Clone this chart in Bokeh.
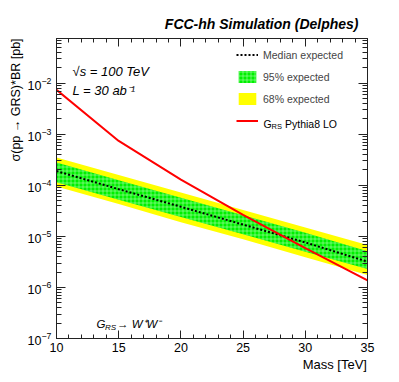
import math
from bokeh.plotting import figure
from bokeh.models import (FixedTicker, LinearAxis, LogAxis, Label, Legend,
                          LegendItem, ColumnDataSource, CustomLabelingPolicy)
from bokeh.embed import file_html
from bokeh.resources import INLINE

# ---------------- data ----------------
mass = [10, 15, 20, 25, 30, 35]
median_exp = [1.9e-4, 8.4e-5, 3.8e-5, 1.7e-5, 7.6e-6, 3.2e-6]
band95_hi = [2.8e-4, 1.25e-4, 5.7e-5, 2.6e-5, 1.18e-5, 5.1e-6]
band95_lo = [1.15e-4, 5.2e-5, 2.4e-5, 1.1e-5, 5.0e-6, 2.3e-6]
band68_hi = [3.5e-4, 1.6e-4, 7.2e-5, 3.3e-5, 1.5e-5, 6.8e-6]
band68_lo = [9.5e-5, 4.3e-5, 1.9e-5, 8.8e-6, 3.9e-6, 1.75e-6]
theory_mass = [10, 15, 20, 25, 30, 35]
theory_xsec = [7.4e-3, 7.4e-4, 1.29e-4, 2.63e-5, 5.9e-6, 1.38e-6]

x_ticks = [10, 15, 20, 25, 30, 35]
x_minor = list(range(10, 36))
y_ticks = [1e-7, 1e-6, 1e-5, 1e-4, 1e-3, 1e-2]
y_minor = [m * 10.0 ** e for e in range(-7, -1) for m in range(2, 10)]

x_title = "Mass [TeV]"
y_title = "\u03c3(pp \u2192 GRS)*BR [pb]"

XMIN, XMAX = 10, 35
YMIN, YMAX = 1e-7, 0.075

FONT = "Liberation Sans"
NBSP = "\u00a0"

src = ColumnDataSource(dict(mass=mass, med=median_exp,
                            g_hi=band95_hi, g_lo=band95_lo,
                            y_hi=band68_hi, y_lo=band68_lo))
th = ColumnDataSource(dict(mass=theory_mass, xs=theory_xsec))

p = figure(width=391, height=374, x_range=(XMIN, XMAX), y_range=(YMIN, YMAX),
           y_axis_type="log", output_backend="svg", toolbar_location=None,
           min_border_left=56, min_border_right=24, min_border_top=38,
           min_border_bottom=32)
p.grid.visible = False
p.outline_line_color = "#222222"
p.background_fill_color = "white"
p.border_fill_color = "white"

# title
p.title.text = "FCC-hh Simulation (Delphes)"
p.title.align = "right"
p.title.offset = 9
p.title.standoff = 6
p.title.text_font = FONT
p.title.text_font_size = "14px"
p.title.text_font_style = "bold italic"
p.title.text_color = "black"

# ---------------- glyphs ----------------
YELLOW = "#ffff00"
GREEN = "#00f000"
r_y = p.varea(x="mass", y1="y_lo", y2="y_hi", source=src, fill_color=YELLOW)
r_g = p.varea(x="mass", y1="g_lo", y2="g_hi", source=src, fill_color=GREEN,
              hatch_pattern="+", hatch_color="#b4ffb4", hatch_alpha=0.55,
              hatch_scale=4, hatch_weight=1)
r_med = p.line(x="mass", y="med", source=src, line_color="black",
               line_width=2, line_dash="2 2")
r_th = p.line(x="mass", y="xs", source=th, line_color="#ff0000", line_width=2)

# ---------------- axes ----------------
xt = FixedTicker(ticks=x_ticks, minor_ticks=x_minor)
yt = FixedTicker(ticks=y_ticks, minor_ticks=y_minor)
no_labels = CustomLabelingPolicy(code="return new Set()")

def style_axis(ax, major, minor, show_labels):
    ax.major_tick_in = major
    ax.major_tick_out = 0
    ax.minor_tick_in = minor
    ax.minor_tick_out = 0
    ax.axis_line_color = "#222222"
    ax.major_tick_line_color = "#222222"
    ax.minor_tick_line_color = "#222222"
    ax.major_label_text_font = FONT
    ax.major_label_text_color = "black"
    if show_labels:
        ax.major_label_text_font_size = "12.5px"
    else:
        ax.major_label_text_font_size = "1px"
        ax.major_label_policy = no_labels
        ax.major_label_standoff = 0

p.xaxis.ticker = xt
p.yaxis.ticker = yt
style_axis(p.xaxis[0], 8, 4, True)
style_axis(p.yaxis[0], 9, 5, True)
p.xaxis.major_label_standoff = 4
p.yaxis.major_label_standoff = 5

# axis titles: the axis centres its label, so non-breaking spaces push the
# visible text to the right end (x) and to the top end (y) as in ROOT
xa = p.xaxis[0]
xa.axis_label = NBSP * 68 + x_title
xa.axis_label_text_font = FONT
xa.axis_label_text_font_size = "13px"
xa.axis_label_text_font_style = "normal"
xa.axis_label_text_color = "black"
xa.axis_label_standoff = 2

ya = p.yaxis[0]
ya.axis_label = NBSP * 51 + y_title
ya.axis_label_text_font = FONT
ya.axis_label_text_font_size = "12.5px"
ya.axis_label_text_font_style = "normal"
ya.axis_label_text_color = "black"
ya.axis_label_standoff = 2

ax_top = LinearAxis(ticker=xt)
style_axis(ax_top, 8, 4, False)
p.add_layout(ax_top, "above")
ax_right = LogAxis(ticker=yt)
style_axis(ax_right, 9, 5, False)
p.add_layout(ax_right, "right")

# ---------------- legend ----------------
legend = Legend(items=[
    LegendItem(label="Median expected", renderers=[r_med]),
    LegendItem(label="95% expected", renderers=[r_g]),
    LegendItem(label="68% expected", renderers=[r_y]),
    LegendItem(label=" ", renderers=[r_th]),
], location=(180, 210), padding=0, margin=0, border_line_color=None,
    background_fill_alpha=0, glyph_width=22, glyph_height=15,
    label_height=15, spacing=7, label_standoff=5,
    label_text_font=FONT, label_text_font_size="10.5px")
p.add_layout(legend, "center")

def lab(text, xo, yo, size, x=XMIN, y=YMAX, style="normal", align="left",
        angle=0.0, baseline="alphabetic"):
    p.add_layout(Label(x=x, y=y, x_offset=xo, y_offset=yo, text=text,
                       text_font=FONT, text_font_size=size,
                       text_font_style=style, text_align=align,
                       text_baseline=baseline, angle=angle,
                       text_color="black"))

# legend theory entry with subscript
lab("G", 207, -85.5, "10.5px")
lab("RS", 215, -88, "7.5px")
lab("Pythia8 LO", 228.5, -85.5, "10.5px")

# inner annotations
lab("\u221as = 100 TeV", 16, -32.5, "13px", style="italic")
lab("L = 30 ab\u207b\u00b9", 16, -52, "13px", style="italic")

# decay channel text
lab("G", 40, 14.3, "11.5px", y=YMIN, style="italic")
lab("RS", 48.5, 11.5, "8px", y=YMIN, style="italic")
lab("\u2192 W\u207aW\u207b", 60.5, 14.3, "11.5px", y=YMIN, style="italic")

open("out.html", "w").write(file_html(p, INLINE))
